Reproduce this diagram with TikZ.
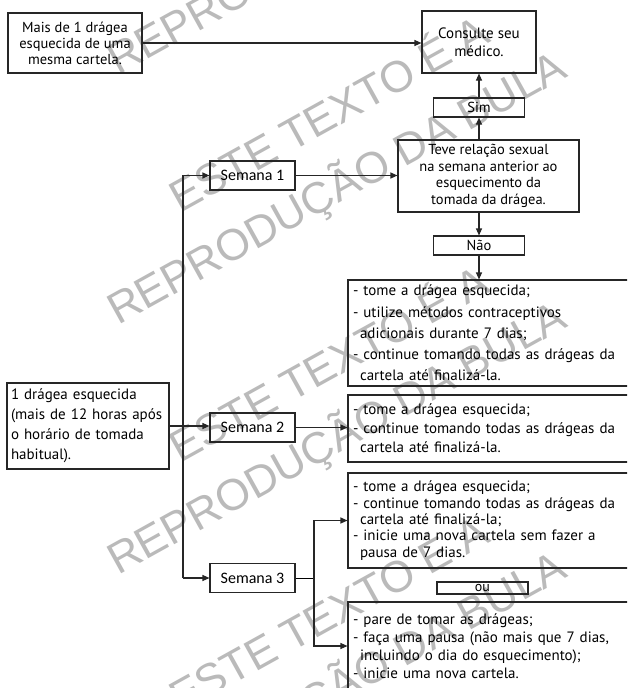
\documentclass[tikz,border=0pt]{standalone}
\usepackage{fontspec}
\setmainfont{PT Sans}
\newfontfamily\semfont{Carlito}
\newfontfamily\wmfont{Liberation Sans}
\usetikzlibrary{arrows.meta}
\tikzset{
  box/.style={draw=black!85, line width=1.1pt, inner sep=0pt, align=center,
    font=\fontsize{14.5}{16}\selectfont},
  listbox/.style={draw=black!85, line width=1.1pt, inner xsep=5pt, inner ysep=0pt,
    minimum width=292pt, text width=282pt, align=left},
  semana/.style={draw=black!85, line width=1.1pt, minimum width=85pt, minimum height=29pt,
    inner sep=0pt, font=\semfont\fontsize{16}{18}\selectfont},
  arr/.style={-{Triangle[length=7pt,width=6pt]}, line width=1.1pt, draw=black!85},
  wm/.style={rotate=29, anchor=base west, text=black!27, inner sep=0pt,
    font=\wmfont\fontsize{44}{44}\selectfont}
}
\newcommand{\cont}{\hspace*{7pt}}
\begin{document}
\begin{tikzpicture}[x=1pt,y=-1pt]
	\useasboundingbox (0,0) rectangle (627,688);
	\clip (0,0) rectangle (627,688);
	\fill[white] (0,0) rectangle (627,688);

	% watermark
	\foreach \dy [count=\k] in {-250,0,250,500} {
		\node[wm] (wmtop\k) at (180,{214+\dy}) {ESTE TEXTO É A};
		\node[wm] (wmbot\k) at (118,{326+\dy}) {REPRODUÇÃO DA BULA};
	}

	% top branch
	\node[box, minimum width=134pt, minimum height=60pt] (mais) at (75,43)
		{Mais de 1 drágea\\esquecida de uma\\mesma cartela.};
	\node[box, minimum width=114pt, minimum height=62pt, font=\fontsize{15}{18}\selectfont] (consulte) at (479,42)
		{Consulte seu\\médico.};
	\node[box, minimum width=91pt, minimum height=19pt] (sim) at (479,107.5) {Sim};
	\node[box, minimum width=181pt, minimum height=72pt, font=\fontsize{14.5}{16.7}\selectfont] (teve) at (488.5,176)
		{Teve relação sexual\\na semana anterior ao\\esquecimento da\\tomada da drágea.};
	\node[box, minimum width=91pt, minimum height=19pt] (nao) at (479,245.5) {Não};

	% weeks
	\node[semana] (sem1) at (252.5,175.5) {Semana 1};
	\node[semana] (sem2) at (252.5,427.5) {Semana 2};
	\node[semana] (sem3) at (252.5,578) {Semana 3};
	\node[box, minimum width=162pt, minimum height=86pt, inner xsep=4pt, text width=154pt, align=left,
		font=\fontsize{15}{20}\selectfont] (dragea) at (88,426)
		{1 drágea esquecida\\(mais de 12 horas após\\o horário de tomada\\habitual).};

	% instructions
	\node[listbox, minimum height=106pt, font=\fontsize{15}{21.3}\selectfont] (boxA) at (494,333)
		{- tome a drágea esquecida;\\- utilize métodos contraceptivos\\\cont adicionais durante 7 dias;\\- continue tomando todas as drágeas da\\\cont cartela até finalizá-la.};
	\node[listbox, minimum height=67pt, font=\fontsize{15}{19}\selectfont] (boxB) at (494,428.5)
		{- tome a drágea esquecida;\\- continue tomando todas as drágeas da\\\cont cartela até finalizá-la.};
	\node[listbox, minimum height=95pt, font=\fontsize{15}{16.3}\selectfont] (boxC) at (494,520.5)
		{- tome a drágea esquecida;\\- continue tomando todas as drágeas da\\\cont cartela até finalizá-la;\\- inicie uma nova cartela sem fazer a\\\cont pausa de 7 dias.};
	\node[box, minimum width=91pt, minimum height=12pt, font=\fontsize{14}{14}\selectfont] (ou) at (482.5,588) {ou};
	\node[listbox, minimum height=88pt, font=\fontsize{15}{17.8}\selectfont] (boxD) at (494,646)
		{- pare de tomar as drágeas;\\- faça uma pausa (não mais que 7 dias,\\\cont incluindo o dia do esquecimento);\\- inicie uma nova cartela.};

	% connectors
	\coordinate (trunk) at (183,0);
	\coordinate (fork) at (314,0);
	\draw[arr] (mais.east) -- (mais.east -| consulte.west);
	\draw[arr] (sim.north) -- (consulte.south);
	\draw[arr] (teve.north -| sim.south) -- (sim.south);
	\draw[arr] (teve.south -| nao.north) -- (nao.north);
	\draw[arr] (nao.south) -- (nao.south |- boxA.north);
	\draw[arr] (sem1.east) -- (sem1.east -| teve.west);
	\draw[arr] (trunk |- sem3) -- (trunk |- sem1) -- (sem1);
	\draw[arr] (trunk |- sem3) -- (sem3);
	\draw[arr] (dragea.east) -- (dragea.east -| sem2.west);
	\draw[arr] (sem2.east) -- (sem2.east -| boxB.west);
	\draw (sem3) -- (fork |- sem3);
	\draw[arr] (fork |- sem3) -- (fork |- boxC) -- (boxC);
	\draw[arr] (fork |- sem3) -- (fork |- boxD) -- (boxD);
\end{tikzpicture}
\end{document}
